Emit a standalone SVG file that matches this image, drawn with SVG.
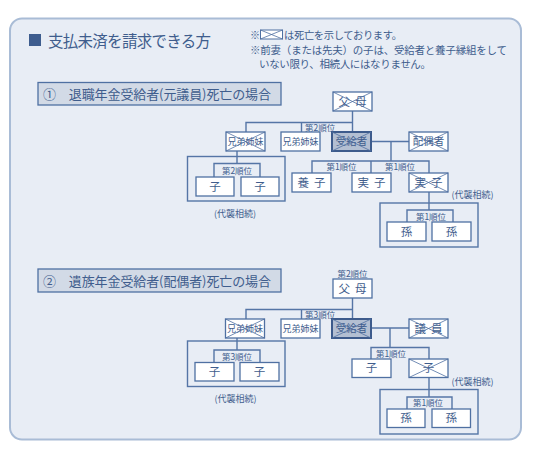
<svg xmlns="http://www.w3.org/2000/svg" width="534" height="449" viewBox="0 0 534 449">
<style>
.t{font-family:"Noto Sans CJK JP","Noto Sans",sans-serif;fill:#3f5d8d}
.m{text-anchor:middle}
.box{fill:#fff;stroke:#4f70a2;stroke-width:1.3}
.jk{fill:#b3bfd2;stroke:#3d5b8c;stroke-width:2}
.x{stroke:#4f70a2;stroke-width:0.8;fill:none}
.bt{font-size:11.5px}
.bs{font-size:9px}
.bm{font-size:10.5px}
.lb{font-size:8.5px}
.dl{font-size:9px}
.conn path,.conn rect{stroke:#5575a6;stroke-width:1.4;fill:none}
.br{stroke-width:1.7}
.hd{fill:#d2dae6;stroke:#4f70a2;stroke-width:1.3}
</style>
<rect x="10" y="18.5" width="511" height="421" rx="12" fill="#e8edf5" stroke="#a9bcd6" stroke-width="2"/>
<g id="title">
<rect x="29" y="34" width="12" height="12" fill="#3e5d8e"/>
<text class="t" x="48" y="46.5" font-size="15.5" textLength="163" fill="#3a5888">支払未済を請求できる方</text>
</g>
<g id="notes">
<text class="t" x="250" y="38.5" font-size="10" fill="#7f95b5">※</text>
<rect x="260.5" y="30" width="22" height="9" fill="#fff" stroke="#4f70a2" stroke-width="1"/>
<path class="x" d="M260.5 30L282.5 39M282.5 30L260.5 39"/>
<text class="t" x="284" y="38.5" font-size="10.3" textLength="118">は死亡を示しております。</text>
<text class="t" x="250" y="54" font-size="10.5" textLength="257">※前妻（または先夫）の子は、受給者と養子縁組をして</text>
<text class="t" x="259" y="67.5" font-size="10.5" textLength="172">いない限り、相続人にはなりません。</text>
</g>
<g id="header1">
<rect class="hd" x="38" y="82.5" width="243" height="22.5"/>
<text class="t" x="43" y="98.5" font-size="13" textLength="228" fill="#4b6b9b">①　退職年金受給者(元議員)死亡の場合</text>
</g>
<g id="header2">
<rect class="hd" x="38" y="269" width="243" height="23"/>
<text class="t" x="43" y="285.5" font-size="13" textLength="228" fill="#4b6b9b">②　遺族年金受給者(配偶者)死亡の場合</text>
</g>
<g class="conn" id="connectors">
<path d="M352.5 111V132M246 132V122.5H352.5M301.5 122.5V132M371 141.5H409M391 141.5V161M312 173V161H429V173M371 161V173M429 192V210M407 222V210H453V222M237 151V163.5M214 177V163.5H260V177"/>
<rect class="br" x="380" y="203" width="98" height="44"/>
<rect class="br" x="187.5" y="156.5" width="97.5" height="44.5"/>
<path d="M352.5 298V319M246 319V309.5H352.5M301.5 309.5V319M371 328H409M390 328V347.5M371 359V347.5H429V359M429 377.5V397M407 409V397H452V409M237 338V350M214 362.5V350H260V362.5"/>
<rect class="br" x="380" y="389.5" width="98" height="44.5"/>
<rect class="br" x="187.5" y="341" width="97.5" height="45.5"/>
</g>
<g id="labels">
<text class="t lb" x="305" y="130.8">第2順位</text>
<text class="t lb m" x="341.5" y="169.8">第1順位</text>
<text class="t lb m" x="400" y="169.8">第1順位</text>
<text class="t lb m" x="431" y="219.8">第1順位</text>
<text class="t lb m" x="237" y="173.8">第2順位</text>
<text class="t dl" x="451.5" y="197.5">(代襲相続)</text>
<text class="t dl m" x="235" y="216.5">(代襲相続)</text>
<text class="t lb m" x="352.5" y="277">第2順位</text>
<text class="t lb" x="305" y="317.8">第3順位</text>
<text class="t lb m" x="391" y="356.8">第1順位</text>
<text class="t lb m" x="428" y="406.3">第1順位</text>
<text class="t lb m" x="237" y="359.8">第3順位</text>
<text class="t dl" x="451.5" y="384.5">(代襲相続)</text>
<text class="t dl m" x="235.5" y="401.5">(代襲相続)</text>
</g>
<g id="s1-fubo"><rect class="box" x="333" y="92" width="39" height="19"/><text class="t bt m" x="355" y="105.7" letter-spacing="5">父母</text><path class="x" d="M333 92L372 111M372 92L333 111"/></g>
<g id="s1-kyodai-x"><rect class="box" x="226" y="132" width="39" height="19"/><text class="t bs m" x="245.5" y="144.8">兄弟姉妹</text><path class="x" d="M226 132L265 151M265 132L226 151"/></g>
<g id="s1-kyodai"><rect class="box" x="281" y="132" width="39" height="19"/><text class="t bs m" x="300.5" y="144.8">兄弟姉妹</text></g>
<g id="s1-jukyu"><rect class="jk" x="332" y="132" width="39" height="19"/><text class="t bm m" x="351.5" y="145.2">受給者</text><path class="x" d="M332 132L371 151M371 132L332 151"/></g>
<g id="s1-haigu"><rect class="box" x="409" y="132" width="39" height="19"/><text class="t bm m" x="428.5" y="145.2">配偶者</text><path class="x" d="M409 132L448 151M448 132L409 151"/></g>
<g id="s1-yoshi"><rect class="box" x="292" y="173" width="39" height="19"/><text class="t bt m" x="314" y="186.5" letter-spacing="5">養子</text></g>
<g id="s1-jisshi"><rect class="box" x="352" y="173" width="39" height="19"/><text class="t bt m" x="374" y="186.5" letter-spacing="5">実子</text></g>
<g id="s1-jisshi-x"><rect class="box" x="409" y="173" width="39" height="19"/><text class="t bt m" x="431" y="186.5" letter-spacing="5">実子</text><path class="x" d="M409 173L448 192M448 173L409 192"/></g>
<g id="s1-mago1"><rect class="box" x="387" y="222" width="39" height="19"/><text class="t bt m" x="406.5" y="235.5">孫</text></g>
<g id="s1-mago2"><rect class="box" x="432" y="222" width="39" height="19"/><text class="t bt m" x="451.5" y="235.5">孫</text></g>
<g id="s1-ko1"><rect class="box" x="196" y="177" width="38" height="19"/><text class="t bt m" x="215" y="190.5">子</text></g>
<g id="s1-ko2"><rect class="box" x="241" y="177" width="38" height="19"/><text class="t bt m" x="260" y="190.5">子</text></g>
<g id="s2-fubo"><rect class="box" x="333" y="279" width="39" height="19"/><text class="t bt m" x="355" y="292.5" letter-spacing="5">父母</text></g>
<g id="s2-kyodai-x"><rect class="box" x="225.5" y="319" width="39" height="19"/><text class="t bs m" x="245" y="331.8">兄弟姉妹</text><path class="x" d="M225.5 319L264.5 338M264.5 319L225.5 338"/></g>
<g id="s2-kyodai"><rect class="box" x="281" y="319" width="39" height="19"/><text class="t bs m" x="300.5" y="331.8">兄弟姉妹</text></g>
<g id="s2-jukyu"><rect class="jk" x="332" y="319" width="39" height="19"/><text class="t bm m" x="351.5" y="332.2">受給者</text><path class="x" d="M332 319L371 338M371 319L332 338"/></g>
<g id="s2-giin"><rect class="box" x="409" y="319" width="39" height="19"/><text class="t bt m" x="431" y="332.5" letter-spacing="5">議員</text><path class="x" d="M409 319L448 338M448 319L409 338"/></g>
<g id="s2-ko"><rect class="box" x="352" y="359" width="39" height="18.5"/><text class="t bt m" x="371.5" y="372.2">子</text></g>
<g id="s2-ko-x"><rect class="box" x="409" y="359" width="39" height="18.5"/><text class="t bt m" x="428.5" y="372.2">子</text><path class="x" d="M409 359L448 377.5M448 359L409 377.5"/></g>
<g id="s2-mago1"><rect class="box" x="387" y="409" width="38" height="18.5"/><text class="t bt m" x="406" y="422.2">孫</text></g>
<g id="s2-mago2"><rect class="box" x="432" y="409" width="38.5" height="18.5"/><text class="t bt m" x="451.2" y="422.2">孫</text></g>
<g id="s2-ko1"><rect class="box" x="195" y="362.5" width="39" height="18.5"/><text class="t bt m" x="214.5" y="375.7">子</text></g>
<g id="s2-ko2"><rect class="box" x="240" y="362.5" width="39" height="18.5"/><text class="t bt m" x="259.5" y="375.7">子</text></g>
</svg>
